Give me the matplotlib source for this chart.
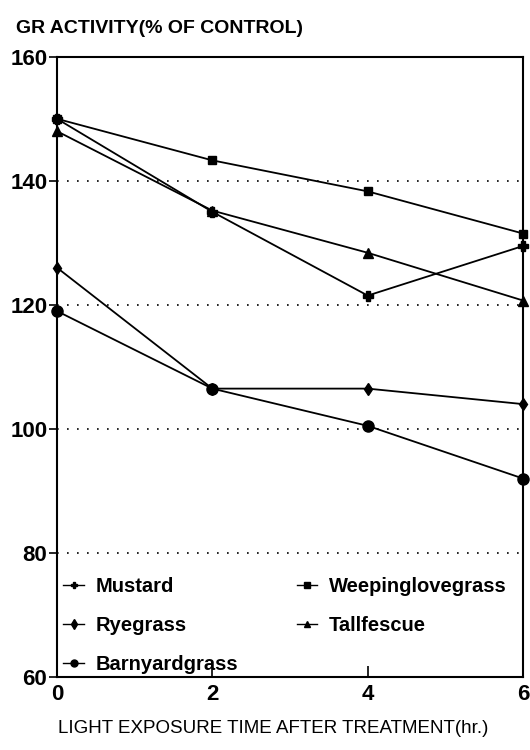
import matplotlib.pyplot as plt
import numpy as np

plt.rcParams['font.family'] = ['Liberation Sans', 'DejaVu Sans']

hours = [0, 2, 4, 6]
mustard = [150, 135, 121.5, 129.5]
ryegrass = [126, 106.5, 106.5, 104]
barnyardgrass = [119, 106.5, 100.5, 92]
weepinglovegrass = [150, 143.3, 138.3, 131.5]
tallfescue = [148, 135.2, 128.4, 120.7]

fig = plt.figure(figsize=(5.3, 7.5), dpi=100)
ax = fig.add_axes([0.1075, 0.0973, 0.8795, 0.827])

# dotted reference lines
for yv in [80, 100, 120, 140]:
    ax.axhline(yv, color='black', lw=1.2, linestyle=(0, (1, 5)), zorder=1)

lw = 1.3
ax.plot(hours, mustard, color='black', lw=lw, marker='P', ms=7, label='Mustard', clip_on=False)
ax.plot(hours, ryegrass, color='black', lw=lw, marker='d', ms=6, label='Ryegrass', clip_on=False)
ax.plot(hours, barnyardgrass, color='black', lw=lw, marker='o', ms=8, label='Barnyardgrass', clip_on=False)
ax.plot(hours, weepinglovegrass, color='black', lw=lw, marker='s', ms=6, label='Weepinglovegrass', clip_on=False)
ax.plot(hours, tallfescue, color='black', lw=lw, marker='^', ms=7, label='Tallfescue', clip_on=False)

ax.set_xlim(0, 6)
ax.set_ylim(60, 160)
ax.set_xticks([0, 2, 4, 6])
ax.set_yticks([60, 80, 100, 120, 140, 160])
ax.tick_params(axis='y', direction='out', length=6, width=1.2, labelsize=16, pad=1)
ax.tick_params(axis='x', direction='in', length=8, width=1.2, labelsize=16, pad=5)
for lab in ax.get_xticklabels() + ax.get_yticklabels():
    lab.set_fontweight('bold')
for sp in ax.spines.values():
    sp.set_linewidth(1.5)

leg = ax.legend(ncol=2, loc='lower left', bbox_to_anchor=(-0.025, -0.025), frameon=False,
                handlelength=1.0, columnspacing=2.9, labelspacing=1.0,
                prop={'size': 14.5, 'weight': 'bold'}, handletextpad=0.6)
for h in leg.legend_handles:
    h.set_markersize(5)
    h.set_linewidth(1.0)

fig.text(0.03, 0.962, 'GR ACTIVITY(% OF CONTROL)', fontsize=14, fontweight='bold', ha='left', va='center')
fig.text(0.516, 0.029, 'LIGHT EXPOSURE TIME AFTER TREATMENT(hr.)', fontsize=13.5, ha='center', va='center')

fig.savefig('out.png', dpi=100)
